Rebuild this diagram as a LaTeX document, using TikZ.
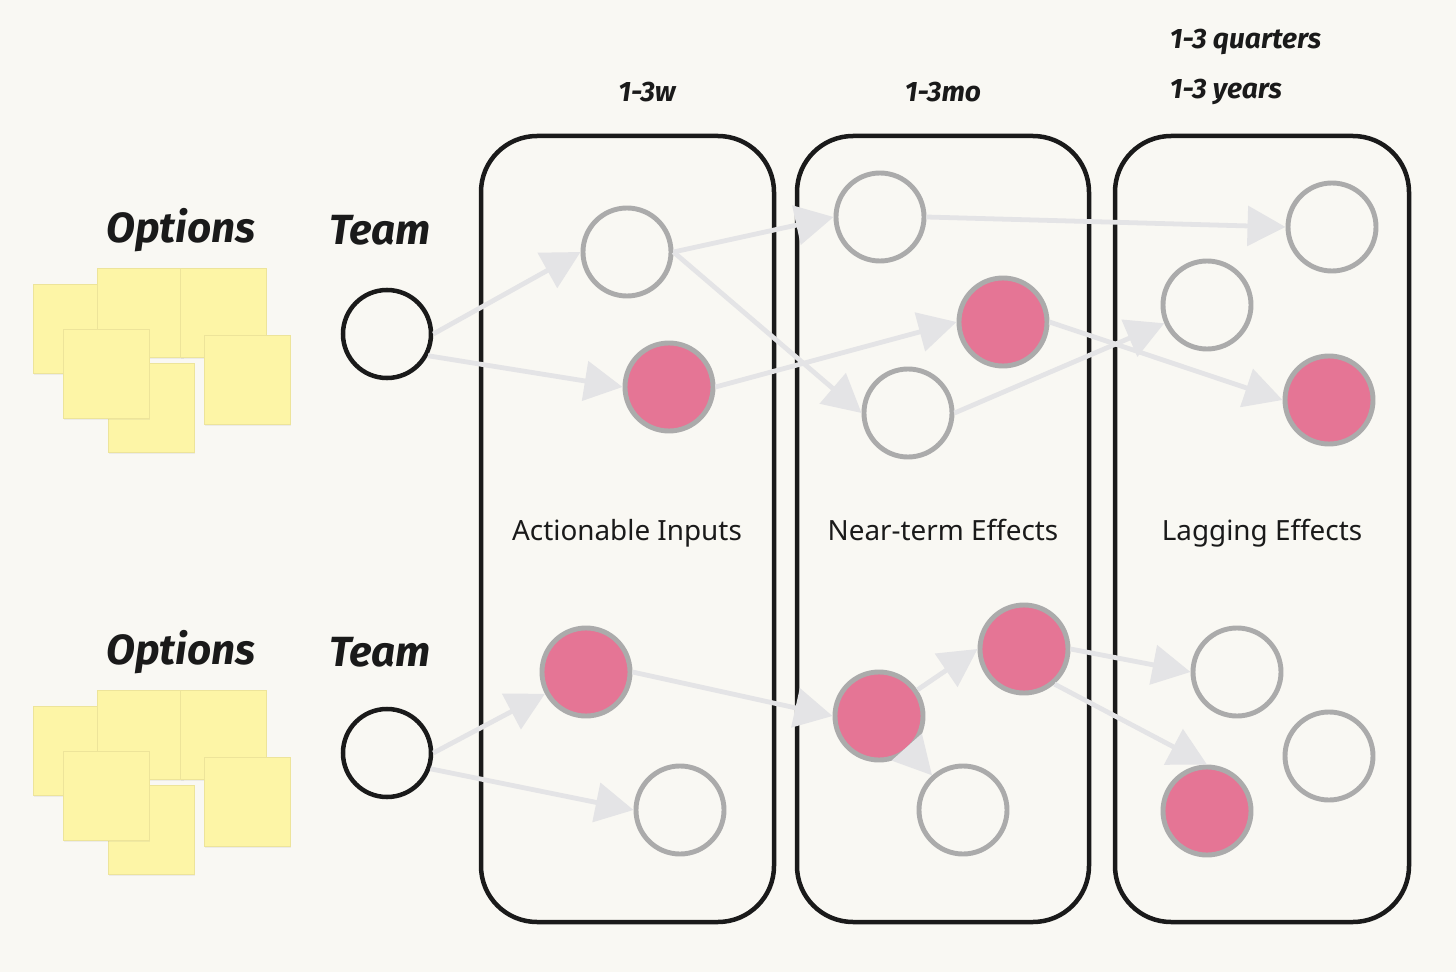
\documentclass[tikz,border=0pt]{standalone}
\usepackage{fontspec}
\setmainfont{Noto Sans}
\newfontfamily\handfont{Fira Sans}
\usetikzlibrary{arrows.meta, shadows}
\definecolor{Paper}{HTML}{F9F8F3}
\definecolor{Ink}{HTML}{1A1A1A}
\definecolor{RingGray}{HTML}{ABABAB}
\definecolor{HitPink}{HTML}{E57595}
\definecolor{FlowGray}{HTML}{E4E4E6}
\definecolor{NoteYellow}{HTML}{FDF5A6}
\definecolor{NoteEdge}{HTML}{EDE49A}

\tikzset{
  outcome/.style={circle, draw=RingGray, line width=3.5pt, minimum size=2.2cm, inner sep=0pt, fill=Paper},
  hit/.style={outcome, fill=HitPink},
  team/.style={circle, draw=Ink, line width=3.2pt, minimum size=2.2cm, inner sep=0pt, fill=Paper},
  flow/.style={draw=FlowGray, line width=3.4pt, -{Triangle[length=27pt, width=28pt]}},
  column/.style={draw=Ink, line width=3.2pt, rounded corners=1.4cm},
  sticky/.style={fill=NoteYellow, draw=NoteEdge, line width=0.6pt,
    drop shadow={opacity=0.10, shadow xshift=0.6pt, shadow yshift=-1.5pt}},
  hand/.style={font=\handfont\bfseries\itshape\fontsize{30}{36}\selectfont, text=Ink},
  horizon/.style={font=\handfont\bfseries\itshape\fontsize{20}{24}\selectfont, text=Ink},
  stage/.style={font=\fontsize{19.8}{24}\selectfont, text=Ink, anchor=base}
}

\begin{document}
\begin{tikzpicture}[x=0.025cm, y=-0.025cm]
    % Paper
    \fill[Paper] (0,0) rectangle (1456,972);
    \useasboundingbox (0,0) rectangle (1456,972);

    % Sticky notes
    \foreach \dy in {0,422} {
      \foreach \sx/\sy in {33/284, 97/268, 180/268, 108/363, 63/329, 204/335} {
        \filldraw[sticky] (\sx,\sy+\dy) rectangle ++(86,89);
      }
    }

    % Options and teams
    \node[hand] (opt1) at (181,230) {Options};
    \node[hand] (tm1) at (380,230) {Team};
    \node[hand] (opt2) at (181,652) {Options};
    \node[hand] (tm2) at (380,652) {Team};
    \node[team] (t1) at (387,334) {};
    \node[team] (t2) at (387,753) {};

    % Columns
    \draw[column] (481,136) rectangle (774,922);
    \draw[column] (797,136) rectangle (1089,922);
    \draw[column] (1115,136) rectangle (1409,922);

    % Time horizons
    \node[horizon] (hw) at (647,92) {1-3w};
    \node[horizon] (hmo) at (943,92) {1-3mo};
    \node[horizon, anchor=west] (hq) at (1165,42) {1-3 quarters};
    \node[horizon, anchor=west] (hy) at (1165,92) {1-3 years};

    % Column names
    \node[stage] (s1) at (627,540) {Actionable Inputs};
    \node[stage] (s2) at (943,540) {Near-term Effects};
    \node[stage] (s3) at (1262,540) {Lagging Effects};

    % Upper team
    \node[outcome] (i1) at (627,252) {};
    \node[hit] (i2) at (669,387) {};
    \node[outcome] (n1) at (880,217) {};
    \node[hit] (n2) at (1003,322) {};
    \node[outcome] (n3) at (908,413) {};
    \node[outcome] (l1) at (1332,227) {};
    \node[outcome] (l2) at (1207,305) {};
    \node[hit] (l3) at (1329,400) {};

    \draw[flow] (t1.east) -- (i1.west);
    \draw[flow] (t1.-28) -- (i2.west);
    \draw[flow] (i1.east) -- (n1.west);
    \draw[flow] (i1.east) -- (n3.west);
    \draw[flow] (i2.east) -- (n2.west);
    \draw[flow] (n1.east) -- (l1.west);
    \draw[flow] (n2.east) -- (l3.west);
    \draw[flow] (n3.east) -- (l2);

    % Lower team
    \node[hit] (i3) at (586,672) {};
    \node[outcome] (i4) at (680,810) {};
    \node[hit] (n4) at (879,716) {};
    \node[hit] (n5) at (1024,649) {};
    \node[outcome] (n6) at (963,810) {};
    \node[outcome] (l4) at (1237,672) {};
    \node[outcome] (l5) at (1329,756) {};
    \node[hit] (l6) at (1207,811) {};

    \draw[flow] (t2.east) -- (i3);
    \draw[flow] (t2.-20) -- (i4.west);
    \draw[flow] (i3.east) -- (n4.west);
    \draw[flow] (n4) -- (n5.west);
    \draw[flow] (n4) -- (n6);
    \draw[flow] (n5.east) -- (l4.west);
    \draw[flow] (n5.-49) -- (l6.north);
\end{tikzpicture}
\end{document}
